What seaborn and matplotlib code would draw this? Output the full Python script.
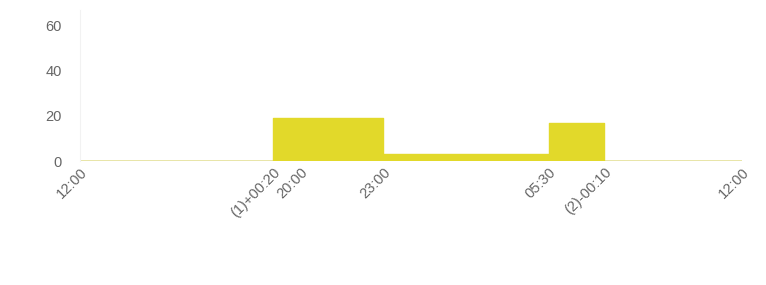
import numpy as np
import matplotlib
matplotlib.use('Agg')
import matplotlib.pyplot as plt
import seaborn as sns
import pandas as pd

# ── Data (hours after 12:00) ─────────────────────────────────
step_hours  = [0, 7, 11, 17, 19, 24]
step_values = [0, 19, 3, 17, 0, 0]

tick_hours  = [0, 7, 8, 11, 17, 19, 24]
tick_labels = ['12:00', '(1)+00:20', '20:00', '23:00', '05:30', '(2)-00:10', '12:00']

y_ticks = [0, 20, 40, 60]

FILL = '#e2d92a'
TEXT = '#666666'

sns.set_style('white')
plt.rcParams['font.family'] = ['Liberation Sans', 'DejaVu Sans']

df = pd.DataFrame({'hour': step_hours, 'value': step_values})

fig = plt.figure(figsize=(7.66, 2.85), dpi=100)
ax = fig.add_axes([0.104, 0.435, 0.865, 0.53])

ax.fill_between(df['hour'], df['value'], step='post', color=FILL, linewidth=0)
sns.lineplot(data=df, x='hour', y='value', drawstyle='steps-post',
             color=FILL, linewidth=1, ax=ax)
ax.axhline(0, color='#e6e4bf', linewidth=1.2, zorder=0)

ax.set_xlim(0, 24)
ax.set_ylim(0, 67)
ax.set_yticks(y_ticks)
ax.set_xticks(tick_hours)
ax.set_xticklabels(tick_labels, rotation=45, ha='right', rotation_mode='anchor')
ax.tick_params(axis='both', length=0, labelsize=10.5, colors=TEXT)
ax.tick_params(axis='y', pad=13)
ax.tick_params(axis='x', pad=3)
ax.set_xlabel('')
ax.set_ylabel('')

for side in ['top', 'right', 'bottom']:
    ax.spines[side].set_visible(False)
ax.spines['left'].set_color('#f2f2f2')
ax.spines['left'].set_linewidth(0.8)

fig.savefig('out.png', dpi=100)
